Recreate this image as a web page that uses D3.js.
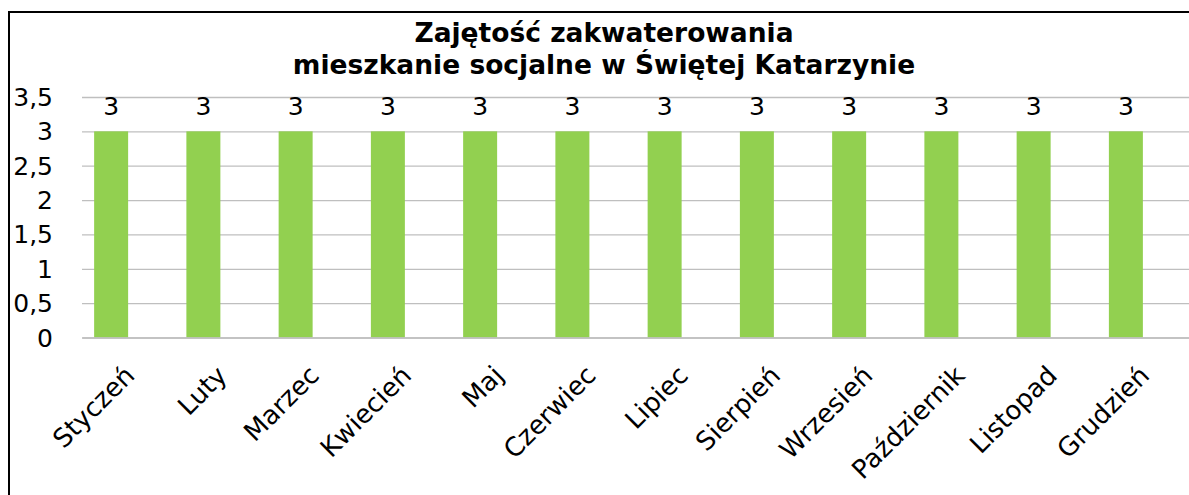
<!DOCTYPE html>
<html>
<head>
<meta charset="utf-8">
<script src="https://cdn.jsdelivr.net/npm/d3@7"></script>
<style>
  html, body { margin: 0; padding: 0; background: #fff; }
  svg { display: block; font-family: Verdana, "DejaVu Sans", sans-serif; }
</style>
</head>
<body>
<svg id="chart" width="1189" height="495"></svg>
<script>
// Occupancy per month (number of residents)
const months = ["Styczeń", "Luty", "Marzec", "Kwiecień", "Maj", "Czerwiec",
                "Lipiec", "Sierpień", "Wrzesień", "Październik", "Listopad", "Grudzień"];
const occupancy = [3, 3, 3, 3, 3, 3, 3, 3, 3, 3, 3, 3];
const yTicks = [0, 0.5, 1, 1.5, 2, 2.5, 3, 3.5];
const titleLines = ["Zajętość zakwaterowania", "mieszkanie socjalne w Świętej Katarzynie"];
// Clustered layout: the occupancy series takes the first of two slots per month
const seriesSlots = ["occupancy", "reserve"];

const FONT = "Verdana, 'DejaVu Sans', sans-serif";
const svg = d3.select("#chart");
const plot = { left: 82, right: 1189, top: 97, bottom: 337.5 };

// Chart frame
svg.append("rect")
  .attr("x", 9).attr("y", 12)
  .attr("width", 1200).attr("height", 520)
  .attr("fill", "#fff").attr("stroke", "#000").attr("stroke-width", 2);

const x = d3.scaleBand()
  .domain(months)
  .range([plot.left, plot.right])
  .paddingInner(0.263)
  .paddingOuter(0.1315);

const xSlot = d3.scaleBand()
  .domain(seriesSlots)
  .range([0, x.bandwidth()]);

const y = d3.scaleLinear()
  .domain([0, 3.5])
  .range([plot.bottom, plot.top]);

const fmt = v => String(v).replace(".", ",");

// Horizontal gridlines and value axis labels
const yAxis = d3.axisLeft(y)
  .tickValues(yTicks)
  .tickSize(-(plot.right - plot.left))
  .tickPadding(29)
  .tickFormat(fmt);

const gy = svg.append("g")
  .attr("transform", `translate(${plot.left},0)`)
  .call(yAxis);
gy.select(".domain").remove();
gy.selectAll(".tick line").attr("stroke", "#bfbfbf").attr("stroke-width", 1.3);
gy.selectAll(".tick text")
  .attr("fill", "#000")
  .attr("font-size", 25)
  .attr("font-family", FONT)
  .attr("dy", "0.34em");

// Bars
svg.append("g").selectAll("rect")
  .data(months)
  .join("rect")
  .attr("x", (d) => x(d) + xSlot("occupancy"))
  .attr("width", xSlot.bandwidth())
  .attr("y", (d, i) => y(occupancy[i]))
  .attr("height", (d, i) => y(0) - y(occupancy[i]))
  .attr("fill", "#92d050");

// Value labels
svg.append("g").selectAll("text")
  .data(months)
  .join("text")
  .attr("x", (d) => x(d) + xSlot("occupancy") + xSlot.bandwidth() / 2)
  .attr("y", (d, i) => y(occupancy[i]) - 16.5)
  .attr("text-anchor", "middle")
  .attr("font-size", 25)
  .attr("font-family", FONT)
  .attr("fill", "#000")
  .text((d, i) => fmt(occupancy[i]));

// Category axis
const xAxis = d3.axisBottom(x).tickSize(0).tickPadding(0);
const gx = svg.append("g")
  .attr("transform", `translate(0,${plot.bottom})`)
  .call(xAxis);
gx.select(".domain").attr("stroke", "#bfbfbf").attr("stroke-width", 1.3);
gx.selectAll(".tick text")
  .attr("font-size", 26)
  .attr("font-family", FONT)
  .attr("fill", "#000")
  .attr("text-anchor", "end")
  .attr("dy", 0)
  .attr("y", 0)
  .attr("transform", `translate(8,${377 - plot.bottom}) rotate(-45)`);

// Title
svg.append("text")
  .attr("text-anchor", "middle")
  .attr("font-size", 26.5)
  .attr("font-weight", "bold")
  .attr("font-family", FONT)
  .attr("fill", "#000")
  .selectAll("tspan")
  .data(titleLines)
  .join("tspan")
  .attr("x", 604)
  .attr("y", (d, i) => 42 + i * 32)
  .text(d => d);
</script>
</body>
</html>
